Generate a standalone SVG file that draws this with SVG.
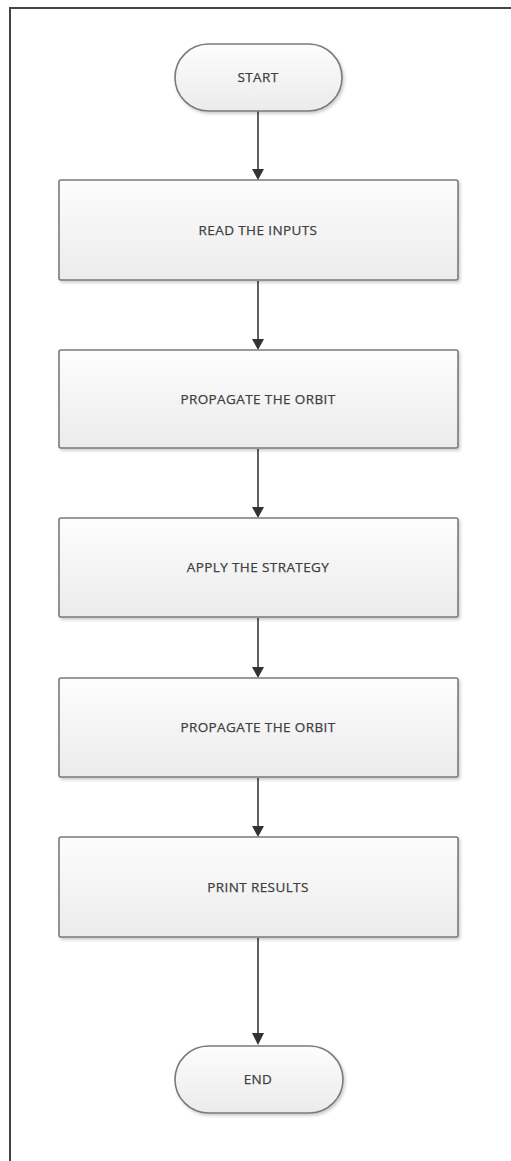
<svg xmlns="http://www.w3.org/2000/svg" width="511" height="1161" viewBox="0 0 511 1161">
<defs>
<linearGradient id="g" x1="0" y1="0" x2="0" y2="1">
<stop offset="0" stop-color="#fdfdfd"/>
<stop offset="1" stop-color="#ebebeb"/>
</linearGradient>
<filter id="sh" x="-10%" y="-10%" width="120%" height="130%">
<feDropShadow dx="1.5" dy="2" stdDeviation="1.5" flood-color="#000" flood-opacity="0.2"/>
</filter>
</defs>
<style>
.shape{fill:url(#g);stroke:#7a7a7a;stroke-width:1.6;filter:url(#sh)}
.lbl{font-family:"Open Sans","Liberation Sans",sans-serif;font-size:13.5px;font-weight:normal;letter-spacing:0.4px;fill:#404040;stroke:#404040;stroke-width:0.25;text-anchor:middle;dominant-baseline:central}
.conn{stroke:#606060;stroke-width:2;fill:none}
.head{fill:#333}
</style>
<rect width="511" height="1161" fill="#fff"/>
<rect x="10" y="8" width="560" height="1200" fill="none" stroke="#444" stroke-width="2"/>
<g id="connectors">
<path class="conn" d="M258,111 V169"/>
<path class="conn" d="M258,281 V339"/>
<path class="conn" d="M258,449 V507"/>
<path class="conn" d="M258,618 V667"/>
<path class="conn" d="M258,778 V826"/>
<path class="conn" d="M258,938 V1033"/>
<path class="head" d="M252,169 L264,169 L258,180 Z"/>
<path class="head" d="M252,339 L264,339 L258,350 Z"/>
<path class="head" d="M252,507 L264,507 L258,518 Z"/>
<path class="head" d="M252,667 L264,667 L258,678 Z"/>
<path class="head" d="M252,826 L264,826 L258,837 Z"/>
<path class="head" d="M252,1033 L264,1033 L258,1045 Z"/>
</g>
<g id="start">
<rect class="shape" x="175" y="44" width="167" height="67" rx="33.5"/>
<text class="lbl" x="258" y="77">START</text>
</g>
<g id="read-inputs">
<rect class="shape" x="59" y="180" width="399" height="100" rx="2"/>
<text class="lbl" x="258" y="230">READ THE INPUTS</text>
</g>
<g id="propagate-1">
<rect class="shape" x="59" y="350" width="399" height="98" rx="2"/>
<text class="lbl" x="258" y="399">PROPAGATE THE ORBIT</text>
</g>
<g id="apply-strategy">
<rect class="shape" x="59" y="518" width="399" height="99" rx="2"/>
<text class="lbl" x="258" y="567">APPLY THE STRATEGY</text>
</g>
<g id="propagate-2">
<rect class="shape" x="59" y="678" width="399" height="99" rx="2"/>
<text class="lbl" x="258" y="727">PROPAGATE THE ORBIT</text>
</g>
<g id="print-results">
<rect class="shape" x="59" y="837" width="399" height="100" rx="2"/>
<text class="lbl" x="258" y="887">PRINT RESULTS</text>
</g>
<g id="end">
<rect class="shape" x="175" y="1046" width="168" height="67" rx="33.5"/>
<text class="lbl" x="258" y="1079">END</text>
</g>
</svg>
